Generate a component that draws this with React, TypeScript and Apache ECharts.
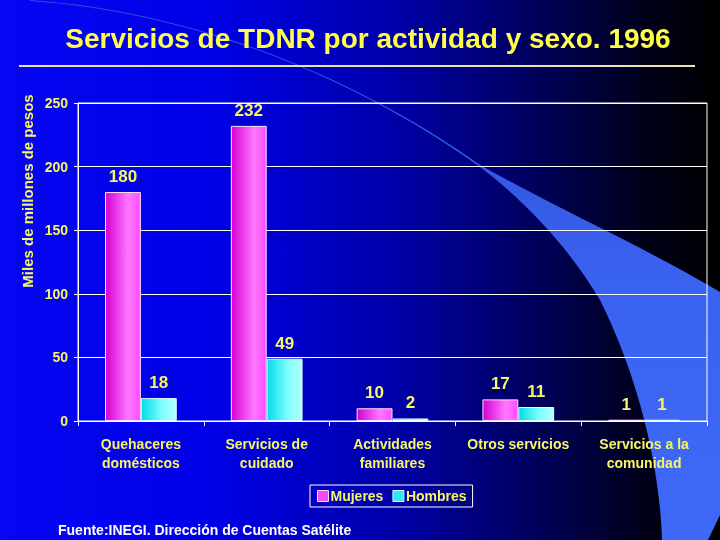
import * as echarts from "echarts";
import { useEffect, useRef } from "react";

const TITLE = "Servicios de TDNR por actividad y sexo. 1996";
const Y_NAME = "Miles de millones de pesos";
const SOURCE = "Fuente:INEGI. Dirección de Cuentas Satélite";

const CATEGORIES = [
  "Quehaceres\ndomésticos",
  "Servicios de\ncuidado",
  "Actividades\nfamiliares",
  "Otros servicios",
  "Servicios a la\ncomunidad",
];
const SERIES_NAMES = ["Mujeres", "Hombres"];
const MUJERES = [180, 232, 10, 17, 1];
const HOMBRES = [18, 49, 2, 11, 1];
const Y_MAX = 250;
const Y_STEP = 50;

const YELLOW = "#ffff4a";
const LABEL_YELLOW = "#f6f668";
const FONT = "'Liberation Sans', Arial, sans-serif";

/** 背景里那道弧形光带（像素坐标，画布 720x540）。 */
const SWOOSH_D =
  "M 30 0 C 200 12 360 80 480 165 C 560 210 650 250 720 292 L 720 515 L 708 540 L 662 540 " +
  "C 660 470 640 380 600 300 C 570 250 530 205 480 167 C 360 81 200 12.8 30 0.9 Z";
echarts.graphic.registerShape("swoosh", echarts.graphic.extendPath(SWOOSH_D, {}));

function hGradient(stops: [number, string][]) {
  return new echarts.graphic.LinearGradient(
    0,
    0,
    1,
    0,
    stops.map(([offset, color]) => ({ offset, color })),
  );
}

function buildOption(): echarts.EChartsOption {
  const barLabel = {
    show: true,
    position: "top" as const,
    distance: 7,
    color: LABEL_YELLOW,
    fontFamily: FONT,
    fontWeight: "bold" as const,
    fontSize: 17,
  };
  return {
    animation: false,
    graphic: [
      {
        type: "rect",
        z: -20,
        silent: true,
        shape: { x: 0, y: 0, width: 720, height: 540 },
        style: {
          fill: hGradient([
            [0, "#0606f4"],
            [0.3, "#0000e6"],
            [0.55, "#0000a8"],
            [0.75, "#00005a"],
            [0.9, "#000018"],
            [1, "#000000"],
          ]),
        },
      },
      {
        type: "swoosh",
        z: -10,
        silent: true,
        style: {
          fill: new echarts.graphic.LinearGradient(
            0,
            60,
            0,
            540,
            [
              { offset: 0, color: "#2c4ed6" },
              { offset: 0.45, color: "#3a62f0" },
              { offset: 1, color: "#3e69f8" },
            ],
            true,
          ),
        },
      } as any,
      {
        type: "text",
        x: 368,
        y: 38,
        silent: true,
        style: {
          text: TITLE,
          fill: YELLOW,
          font: `bold 28px ${FONT}`,
          align: "center",
          verticalAlign: "middle",
        },
      },
      {
        type: "line",
        silent: true,
        shape: { x1: 19, y1: 66, x2: 695, y2: 66 },
        style: { stroke: "#ebe3b0", lineWidth: 2 },
      },
      {
        type: "text",
        silent: true,
        x: 27,
        y: 191,
        rotation: Math.PI / 2,
        style: {
          text: Y_NAME,
          fill: LABEL_YELLOW,
          font: `bold 15px ${FONT}`,
          align: "center",
          verticalAlign: "middle",
        },
      },
      {
        type: "text",
        silent: true,
        x: 58,
        y: 530,
        style: {
          text: SOURCE,
          fill: "#ffffff",
          font: `bold 14px ${FONT}`,
          verticalAlign: "middle",
        },
      },
    ],
    grid: {
      left: 78,
      right: 13,
      top: 103,
      bottom: 119,
      show: true,
      borderColor: "#ffffff",
      borderWidth: 1,
      backgroundColor: "transparent",
    },
    legend: {
      left: 310,
      top: 485,
      padding: [4, 6, 4, 7],
      itemGap: 9,
      itemWidth: 11,
      itemHeight: 11,
      borderColor: "#ffffff",
      borderWidth: 1,
      icon: "rect",
      textStyle: {
        color: LABEL_YELLOW,
        fontFamily: FONT,
        fontWeight: "bold",
        fontSize: 14,
        padding: [0, 0, 0, -3],
      },
      data: [
        {
          name: SERIES_NAMES[0],
          itemStyle: { color: "#f24cf2", borderColor: "#ffd0ff", borderWidth: 1 },
        },
        {
          name: SERIES_NAMES[1],
          itemStyle: { color: "#30e8f0", borderColor: "#d0ffff", borderWidth: 1 },
        },
      ],
    },
    xAxis: {
      type: "category",
      data: CATEGORIES,
      axisLine: { lineStyle: { color: "#ffffff", width: 1 } },
      axisTick: { show: true, length: 5, lineStyle: { color: "#ffffff" } },
      axisLabel: {
        color: LABEL_YELLOW,
        fontFamily: FONT,
        fontWeight: "bold",
        fontSize: 14,
        lineHeight: 19,
        margin: 13,
        interval: 0,
      },
    },
    yAxis: {
      type: "value",
      min: 0,
      max: Y_MAX,
      interval: Y_STEP,
      axisLine: { show: true, lineStyle: { color: "#ffffff", width: 1 } },
      axisTick: { show: true, length: 4, lineStyle: { color: "#ffffff" } },
      axisLabel: {
        color: LABEL_YELLOW,
        fontFamily: FONT,
        fontWeight: "bold",
        fontSize: 14,
        margin: 10,
      },
      splitLine: { show: true, lineStyle: { color: "#ffffff", width: 1 } },
    },
    series: [
      {
        name: SERIES_NAMES[0],
        type: "bar",
        data: MUJERES,
        barGap: "0%",
        barCategoryGap: "43%",
        itemStyle: {
          color: hGradient([
            [0, "#d400d4"],
            [0.65, "#ff78ff"],
            [1, "#ff4cff"],
          ]),
          borderColor: "#ffe0ff",
          borderWidth: 1,
        },
        label: barLabel,
      },
      {
        name: SERIES_NAMES[1],
        type: "bar",
        data: HOMBRES,
        barGap: "0%",
        barCategoryGap: "43%",
        itemStyle: {
          color: hGradient([
            [0, "#00dce6"],
            [0.6, "#80ffff"],
            [1, "#b4ffff"],
          ]),
          borderColor: "#e0ffff",
          borderWidth: 1,
        },
        label: barLabel,
      },
    ],
  };
}

export default function App() {
  const chartRef = useRef<HTMLDivElement | null>(null);

  useEffect(() => {
    const el = chartRef.current;
    if (!el) {
      return undefined;
    }
    const chart = echarts.init(el, undefined, { renderer: "svg" });
    chart.setOption(buildOption());
    return () => {
      chart.dispose();
    };
  }, []);

  return (
    <div
      ref={chartRef}
      style={{ position: "fixed", left: 0, top: 0, width: 720, height: 540 }}
    />
  );
}
